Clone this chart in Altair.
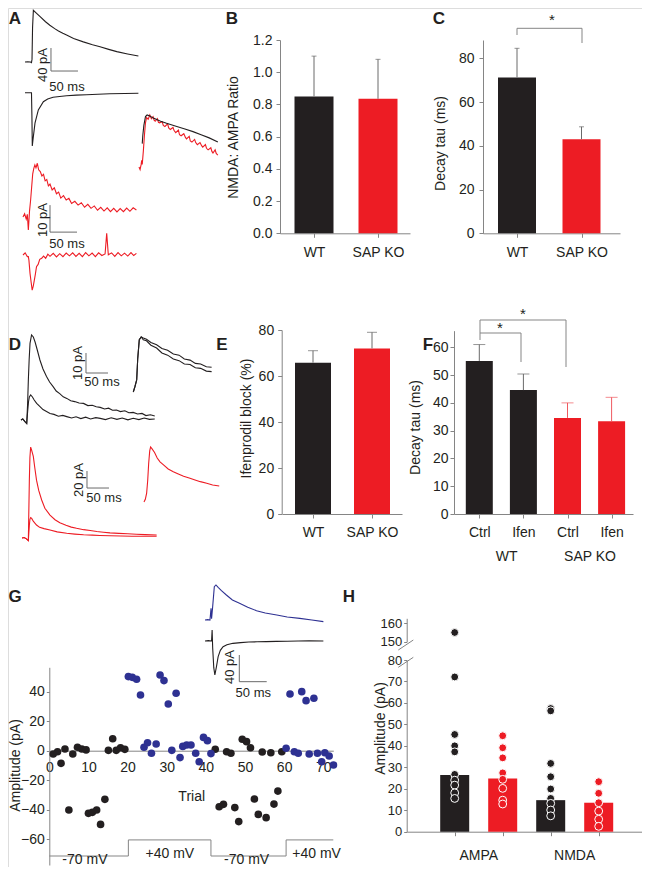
import altair as alt
import pandas as pd

# ---------------- data ----------------
# Panel B : NMDA/AMPA ratio
b_groups = ["WT", "SAP KO"]
b_mean = [0.85, 0.835]
b_sem = [0.25, 0.245]
# Panel C : decay tau
c_groups = ["WT", "SAP KO"]
c_mean = [71.3, 43.0]
c_sem = [13.3, 5.7]
# Panel E : ifenprodil block
e_groups = ["WT", "SAP KO"]
e_mean = [65.8, 72.0]
e_sem = [5.2, 7.0]
# Panel F : decay tau ctrl / ifen
f_cond = ["Ctrl", "Ifen", "Ctrl", "Ifen"]
f_geno = ["WT", "WT", "SAP KO", "SAP KO"]
f_mean = [55.1, 44.6, 34.6, 33.4]
f_sem = [5.9, 5.8, 5.4, 8.6]
# Panel H : amplitudes
h_receptor = ["AMPA", "AMPA", "NMDA", "NMDA"]
h_geno = ["WT", "SAP KO", "WT", "SAP KO"]
h_mean = [26.4, 24.8, 14.7, 13.5]
h_ampa_wt = [155, 72.1, 45.3, 40.0, 37.2, 26.7, 24.0, 21.7, 18.1, 15.5]
h_ampa_ko = [44.7, 39.1, 34.4, 27.4, 24.4, 20.2, 14.7, 12.9]
h_nmda_wt = [57.4, 56.3, 31.8, 25.6, 19.9, 15.5, 13.2, 10.1, 7.4]
h_nmda_ko = [23.3, 17.9, 13.5, 9.6, 5.8, 2.5]

# Panel G : trial-by-trial amplitudes
g_neg_trial = [1.0, 2.1, 3.0, 4.0, 6.0, 7.2, 8.3, 9.4, 15.1, 16.2, 17.1, 18.2, 19.3,
               42.4, 45.3, 46.4, 49.3, 50.4, 51.4, 54.4, 56.6, 59.4,
               5.0, 10.0, 11.0, 12.1, 13.1, 14.2, 43.4, 44.5, 47.4, 48.4, 52.4, 53.4,
               55.4, 57.4, 58.4]
g_neg_amp = [-2.3, -0.7, -8.6, 1.1, -2.3, 2.3, 1.1, 0.5, 0.2, 8.1, 0.2, 2.0, 0.9,
             1.0, -0.7, -1.8, 7.7, 6.1, 2.0, -0.9, -1.4, -0.7,
             -40.2, -42.5, -41.8, -40.2, -50.0, -33.0, -38.0, -36.4, -38.6, -48.1, -32.8,
             -43.2, -45.4, -36.2, -27.4]
g_pos_trial = [20.2, 21.2, 22.3, 23.3, 28.3, 29.3, 30.4, 32.4, 61.5, 64.5, 65.6, 67.6,
               24.2, 25.1, 26.1, 27.3, 31.3, 33.4, 34.1, 35.1, 36.2, 37.4, 38.3, 39.4,
               40.4, 41.3, 60.5, 62.6, 63.6, 66.4, 68.5, 69.6, 70.4, 71.5, 72.6]
g_pos_amp = [50.2, 49.7, 48.4, 37.7, 51.3, 47.5, 31.6, 38.9, 38.4, 40.0, 33.9, 35.5,
             2.3, 5.4, -1.8, 4.5, 0.2, -4.7, 2.9, 3.8, 3.8, -1.8, -7.5, 9.0,
             6.8, -2.0, 1.6, -0.7, -1.8, -2.3, -1.8, -7.5, -1.4, -3.6, -9.7]
g_step_trial = [0, 20.2, 20.2, 41.3, 41.3, 60.5, 60.5, 72.56]
g_step_level = [-71.4, -71.4, -60.5, -60.5, -71.4, -71.4, -60.5, -60.5]
g_volt_trial = [9.1, 30.8, 50.4, 68.3]
g_volt_amp = [-76.6, -72.6, -76.6, -72.6]
g_volt_label = ["-70 mV", "+40 mV", "-70 mV", "+40 mV"]

# ---- example traces (time in ms, current in pA or normalised) ----
a1_t = [0, 5, 10, 12, 13, 14, 15.5, 20, 28, 38, 46, 55, 62, 70, 77, 90, 108, 125, 139, 155, 170, 190, 210]
a1_v = [0, 0.5, 0, -1, 5, 60, 90, 86, 79, 70, 64, 58, 54, 50, 47, 41, 35, 30, 26.6, 22, 18, 14, 10.4]
a2_t = [0, 6, 12, 12.8, 13.5, 15, 18.5, 24.7, 34, 42, 52, 64, 77, 95, 114, 135, 157, 185, 210]
a2_v = [0, 0, 0, -40, -92.7, -80, -53, -30, -15.6, -11, -8, -6.5, -5.2, -4.3, -3.5, -2.6, -1.7, -1.3, -1]
a_ovl_k_t = [6, 7, 9, 12, 15, 20, 26.5, 40, 51, 70, 85, 100, 115, 130, 146]
a_ovl_k_v = [0.45, 0.6, 0.8, 0.97, 1.0, 0.98, 0.94, 0.88, 0.84, 0.78, 0.73, 0.68, 0.62, 0.56, 0.48]
a_ovl_r_t = [0, 2, 4, 5, 6, 8, 10, 12, 14, 17, 20, 23, 26, 28, 30, 34, 36, 38, 43, 45, 48, 53, 55,
             58, 63, 65, 68, 73, 75, 78, 83, 86, 88, 93, 95, 98, 103, 105, 108, 113, 116, 118,
             123, 125, 128, 133, 135, 137, 141, 143, 146]
a_ovl_r_v = [0, -0.05, 0.05, 0.13, 0.05, 0.3, 0.6, 0.85, 0.95, 0.92, 1.0, 0.93, 0.97, 0.9, 0.88,
             0.93, 0.86, 0.85, 0.87, 0.8, 0.78, 0.83, 0.75, 0.72, 0.76, 0.7, 0.66, 0.71, 0.62,
             0.6, 0.64, 0.57, 0.54, 0.59, 0.5, 0.48, 0.53, 0.47, 0.43, 0.47, 0.41, 0.38, 0.43,
             0.36, 0.33, 0.37, 0.3, 0.27, 0.33, 0.26, 0.23]
a3_t = [0, 3, 6, 8, 9.9, 12, 14, 16, 18, 20, 22, 24, 26.5, 29, 32, 35, 38, 41, 44, 47, 50, 54, 58,
        62, 66, 70, 75, 80, 85, 90, 96, 102, 108, 114, 120, 126, 132, 138, 144, 150, 156, 162,
        168, 174, 180, 186, 192, 198, 204, 210]
a3_v = [0, 1.2, -0.8, 1.0, -4.8, 2, 6, 11, 16, 18, 19.3, 18.2, 19.9, 17.5, 16.8, 15.2, 15.8, 13.4,
        13.9, 11.5, 12.2, 10, 10.8, 8.6, 9.2, 7.0, 7.9, 6.3, 6.9, 5.0, 5.8, 4.4, 5.3, 3.6, 4.7,
        3.2, 4.1, 2.5, 3.6, 2.2, 3.4, 2.0, 3.2, 1.9, 3.1, 2.0, 3.3, 2.1, 3.4, 2.6]
a4_t = [0, 4, 8, 9.9, 11, 13, 15, 17, 19, 21, 23, 25, 28, 31, 34.6, 38, 42, 46, 50, 56, 62, 68,
        74, 80, 86, 92, 98, 104, 110, 116, 122, 128, 134, 140, 146, 152, 155, 158, 164, 170,
        176, 182, 188, 194, 200, 205, 210]
a4_v = [0, 0.8, -0.6, -0.6, -2, -6.8, -10, -13, -11.5, -9.3, -7, -4.3, -3.5, -1.6, -1.2, -0.4,
        -1.2, 0.3, -0.5, 0.6, -0.7, 0.5, -0.6, 0.7, -0.3, 0.8, -0.5, 0.6, -0.6, 0.9, -0.3, 0.7,
        -0.6, 0.8, -0.2, 0.4, 8, 0.1, 0.8, -0.5, 0.9, -0.3, 0.7, -0.4, 0.9, -0.2, 0.6]

d_k1_t = [0, 4, 9, 13, 15, 16.7, 18.5, 20.5, 24, 28, 32, 37, 43, 50, 58, 65, 73, 80, 88, 96, 104,
          113, 122, 132, 142, 152, 162, 171, 180, 190, 199, 208, 217, 226, 236, 245, 255, 265,
          275, 284, 294, 304]
d_k1_v = [0, 0.5, -0.8, -1.7, 8, 20, 30, 38.3, 42.5, 41.5, 39, 35, 30, 25.5, 21.7, 19, 16.7,
          14.5, 13.2, 11.6, 10.8, 9.6, 9.2, 8.5, 8.3, 7.2, 7.4, 6.6, 6.3, 5.5, 5.9, 4.9, 5.0,
          4.2, 4.6, 3.6, 3.8, 3.0, 3.3, 2.2, 2.6, 2.0]
d_k2_t = [0, 4, 9, 13, 15, 17, 19, 22, 26, 30, 35.6, 42, 50, 58, 66, 75, 85, 95, 104, 115, 125,
          136, 147, 158, 170, 180, 192, 205, 218, 230, 243, 255, 268, 280, 292, 304]
d_k2_v = [0, 0.5, -0.8, -1.7, 4, 9, 11.5, 12.5, 11.5, 10, 8.3, 6.9, 5.2, 4.2, 3.2, 2.8, 1.9,
          2.3, 1.7, 1.0, 1.6, 0.7, 1.4, 0.5, 1.2, 0.8, 0.2, 1.1, 0.3, 1.0, 0.1, 0.9, 0.2, 1.0,
          0.3, 0.5]
d_ko1_t = [0, 3.8, 7.7, 10, 13.6, 18, 22.7, 30, 40, 53, 65, 78, 91, 104, 116, 129, 141, 153, 166, 178]
d_ko1_v = [0, 0.1, 0.22, 0.6, 0.95, 1.0, 0.98, 0.96, 0.9, 0.86, 0.79, 0.76, 0.69, 0.67, 0.6,
           0.58, 0.52, 0.51, 0.46, 0.45]
d_ko2_t = [0, 3.8, 7.7, 10, 13.6, 18, 22.7, 30, 40, 53, 65, 78, 91, 104, 116, 129, 141, 153, 166, 178]
d_ko2_v = [0, 0.1, 0.22, 0.6, 0.95, 1.0, 0.95, 0.93, 0.85, 0.8, 0.71, 0.67, 0.6, 0.57, 0.51,
           0.5, 0.44, 0.43, 0.38, 0.37]
d_r1_t = [0, 5, 10, 14.4, 16.7, 18, 19.7, 22, 25.7, 29, 33, 38, 44.7, 52, 63.6, 75, 86, 100, 112,
          124, 140, 155, 170, 185, 200, 220, 240, 260, 280, 306]
d_r1_v = [0, 0.5, -1, -3, 68, 95, 107, 103, 96, 83, 68, 56, 44.7, 35, 27, 21.5, 18, 15, 12.8,
          11.4, 9.8, 8.8, 7.6, 6.8, 6.0, 5.4, 5.0, 4.4, 4.0, 3.5]
d_r2_t = [0, 5, 10, 14.4, 16.7, 18, 19.7, 22, 26, 33, 40, 50, 63.6, 80, 101.6, 120, 140, 160,
          177, 200, 225, 250, 275, 306]
d_r2_v = [0, 0.5, -1, -3, 15, 22, 24, 23, 19.5, 15.3, 12.5, 11, 9.4, 7.2, 5.5, 4.6, 3.8, 3.4,
          3.0, 2.6, 2.3, 2.1, 2.0, 2.0]
d_rovl_t = [0, 3, 6, 8.5, 10.6, 13, 15, 18, 24, 30, 36.4, 45, 55, 66.6, 78, 90, 104.5, 116, 128,
            142.5, 156, 171]
d_rovl_v = [0, 0.05, 0.16, 0.4, 0.7, 0.93, 1.0, 0.97, 0.9, 0.8, 0.73, 0.67, 0.6, 0.55, 0.51,
            0.47, 0.43, 0.4, 0.37, 0.34, 0.31, 0.29]
g_blue_t = [0, 5, 9, 10, 11, 12, 14, 17, 20, 24, 30, 39, 50, 63, 78, 94, 110, 131, 150, 173, 195, 216]
g_blue_v = [0, 0.5, 0, 8, 17.5, 2, 20, 50, 52.5, 49, 44, 37.5, 30, 25, 19, 14, 10.5, 7.5, 4.5, 2.5, 0, -2.5]
g_black_t = [0, 6, 12, 13, 14, 16, 18, 21, 24, 28, 33, 40, 51, 65, 80, 95, 112, 130, 150, 170, 190, 216]
g_black_v = [0, 0.5, 0, 16.5, -10, -40, -51, -38, -23.5, -14, -8.5, -5.5, -3.5, -2.5, -1.5,
             -1.2, -1, -0.6, -0.3, 0, 0.2, 0]

# ---------------- style ----------------
BLACK = "#231F20"
RED = "#ED1C24"
BLUE = "#2E3192"
GREY = "#858585"
ERR_GREY = "#6a6a6a"
ERR_RED = "#EF5A60"
SB = "#6a6a6a"
FONT = "Liberation Sans"
W, H = 634, 859
M = 8

AX = dict(domainColor=GREY, tickColor=GREY, labelColor=BLACK, labelFont=FONT,
          grid=False, labelFlush=False, labelOverlap=False, domainWidth=1, tickWidth=1)

ONE = alt.Data(values=[{}])


def lin_x(x0, k):
    return alt.Scale(domain=[0, 100], range=[x0 - M, x0 - M + 100 * k], nice=False, zero=False, padding=0)


def lin_y(y0, k):
    return alt.Scale(domain=[0, 100], range=[y0 - M, y0 - M - 100 * k], nice=False, zero=False, padding=0)


def x_scale(c1, step, a0, a1):
    p0 = c1 - step
    return alt.Scale(domain=[(a0 - p0) / step, (a1 - p0) / step], range=[a0 - M, a1 - M],
                     nice=False, zero=False, padding=0)


def y_scale(dom, px_lo, px_hi):
    return alt.Scale(domain=dom, range=[px_lo - M, px_hi - M], nice=False, zero=False, padding=0)


def left_axis(x_px, values, fmt=None, title=None, tx=None, ty=None, tick=4, pad=4, size=14):
    kw = dict(AX, orient="left", offset=-(x_px - M), values=values, tickSize=tick,
              labelPadding=pad, labelFontSize=size)
    if fmt:
        kw["format"] = fmt
    if title:
        kw.update(title=title, titleX=tx - x_px, titleY=ty - M, titleAngle=270,
                  titleAlign="center", titleBaseline="middle", titleFont=FONT,
                  titleFontSize=14, titleFontWeight="normal", titleColor=BLACK)
    else:
        kw["title"] = None
    return alt.Axis(**kw)


def bottom_axis(y_px, values, label_expr=None, tick=4, pad=9, labels=True, size=14, ticks=True):
    kw = dict(AX, orient="bottom", offset=(y_px - M) - H, values=values, tickSize=tick,
              labelPadding=pad, labels=labels, title=None, ticks=ticks, labelFontSize=size)
    if label_expr:
        kw["labelExpr"] = label_expr
    return alt.Axis(**kw)


def label_expr(labels):
    parts = [f"datum.value == {i + 1} ? '{l}'" for i, l in enumerate(labels)]
    return " : ".join(parts) + " : ''"


def text(s, x, y, size=14, bold=False, angle=0, color=BLACK):
    return alt.Chart(ONE).mark_text(
        text=s, font=FONT, fontSize=size, fontWeight="bold" if bold else "normal",
        angle=angle, align="center", baseline="middle", color=color
    ).encode(x=alt.value(x - M), y=alt.value(y - M))


def seg(x1, y1, x2, y2, color=GREY, w=1):
    return alt.Chart(ONE).mark_rule(color=color, strokeWidth=w).encode(
        x=alt.value(x1 - M), y=alt.value(y1 - M), x2=alt.value(x2 - M), y2=alt.value(y2 - M))


def trace(t, v, color, xs, ys, w=1.1):
    df = pd.DataFrame({"t": t, "v": v, "i": range(len(t))})
    return alt.Chart(df).mark_line(color=color, strokeWidth=w).encode(
        x=alt.X("t:Q", scale=xs, axis=None), y=alt.Y("v:Q", scale=ys, axis=None),
        order=alt.Order("i:Q"))


def scalebar(t0, v_top, v_bot, xs, ys):
    return trace([t0, t0, t0 + 50], [v_top, v_bot, v_bot], SB, xs, ys, w=1)


def bar_layers(mean, sem, groups, fills, errs, xs, ys, xax, yax, bw, cap):
    df = pd.DataFrame({"pos": list(range(1, len(mean) + 1)), "mean": mean,
                       "top": [m + s for m, s in zip(mean, sem)], "grp": groups})
    dom = list(dict.fromkeys(groups))
    fill = alt.Color("grp:N", scale=alt.Scale(domain=dom, range=fills), legend=None)
    ecol = alt.Color("grp:N", scale=alt.Scale(domain=dom, range=errs), legend=None)
    base = alt.Chart(df)
    bars = base.mark_bar(size=bw, orient="vertical").encode(
        x=alt.X("pos:Q", scale=xs, axis=xax), y=alt.Y("mean:Q", scale=ys, axis=yax), color=fill)
    rule = base.mark_rule(strokeWidth=1).encode(
        x=alt.X("pos:Q", scale=xs, axis=None), y=alt.Y("mean:Q", scale=ys, axis=None),
        y2="top:Q", color=ecol)
    caps = base.mark_tick(orient="horizontal", size=cap, thickness=1).encode(
        x=alt.X("pos:Q", scale=xs, axis=None), y=alt.Y("top:Q", scale=ys, axis=None), color=ecol)
    return [bars, rule, caps]


layers = []

# ---------------- Panel A ----------------
layers.append(text("A", 15, 19, size=17, bold=True))
xa = lin_x(25, 0.54)
ya1 = lin_y(62, 0.575)
ya2 = lin_y(92.7, 0.575)
layers.append(trace(a1_t, a1_v, BLACK, xa, ya1))
layers.append(trace(a2_t, a2_v, BLACK, xa, ya2))
layers.append(scalebar(48.1, 24.3, -15.7, xa, ya1))
layers.append(text("40 pA", 43, 65, size=13, angle=270))
layers.append(text("50 ms", 67, 87, size=13))
xo = lin_x(139, 0.54)
yo = lin_y(167, 0.52)
layers.append(trace(a_ovl_r_t, [v * 100 for v in a_ovl_r_v], RED, xo, yo))
layers.append(trace(a_ovl_k_t, [v * 100 for v in a_ovl_k_v], BLACK, xo, yo))
xa3 = lin_x(23, 0.54)
ya3 = lin_y(217, 2.7)
ya4 = lin_y(255, 2.7)
layers.append(trace(a3_t, a3_v, RED, xa3, ya3))
layers.append(trace(a4_t, a4_v, RED, xa3, ya4))
layers.append(scalebar(50, 4.4, -5.6, xa3, ya3))
layers.append(text("10 pA", 43, 220, size=13, angle=270))
layers.append(text("50 ms", 67, 244, size=13))

# ---------------- Panel B ----------------
layers.append(text("B", 232, 19, size=17, bold=True))
xs_b = x_scale(314, 64, 280, 410)
ys_b = y_scale([0, 1.2], 233.3, 40)
layers += bar_layers(b_mean, b_sem, b_groups, [BLACK, RED], [ERR_GREY, ERR_GREY], xs_b, ys_b,
                     bottom_axis(233.3, [1, 2], label_expr(b_groups), pad=8),
                     left_axis(280, [0, 0.2, 0.4, 0.6, 0.8, 1.0, 1.2], fmt=".1f",
                               title="NMDA: AMPA Ratio", tx=233, ty=137, pad=4),
                     39, 5)

# ---------------- Panel C ----------------
layers.append(text("C", 439, 19, size=17, bold=True))
xs_c = x_scale(517, 64.5, 483, 620)
ys_c = y_scale([0, 88.4], 233.3, 40)
layers += bar_layers(c_mean, c_sem, c_groups, [BLACK, RED], [ERR_GREY, ERR_GREY], xs_c, ys_c,
                     bottom_axis(233.3, [1, 2], label_expr(c_groups), pad=8),
                     left_axis(483, [0, 20, 40, 60, 80], title="Decay tau (ms)", tx=440, ty=143, pad=5),
                     38, 5)
layers.append(seg(517, 28.3, 582, 28.3))
layers.append(seg(517, 28.3, 517, 35))
layers.append(seg(582, 28.3, 582, 43))
layers.append(text("*", 552, 20, size=15))

# ---------------- Panel D ----------------
layers.append(text("D", 15, 345, size=17, bold=True))
xd = lin_x(21, 0.44)
yd = lin_y(420, 2.0)
layers.append(trace(d_k2_t, d_k2_v, BLACK, xd, yd))
layers.append(trace(d_k1_t, d_k1_v, BLACK, xd, yd))
layers.append(scalebar(147.7, 33.5, 23.5, xd, yd))
layers.append(text("10 pA", 78, 363, size=13, angle=270))
layers.append(text("50 ms", 102, 382, size=13))
xdo = lin_x(133.3, 0.44)
ydo = lin_y(392, 0.55)
layers.append(trace(d_ko1_t, [v * 100 for v in d_ko1_v], BLACK, xdo, ydo))
layers.append(trace(d_ko2_t, [v * 100 for v in d_ko2_v], BLACK, xdo, ydo))
xdr = lin_x(22, 0.44)
ydr = lin_y(538, 0.85)
layers.append(trace(d_r2_t, d_r2_v, RED, xdr, ydr))
layers.append(trace(d_r1_t, d_r1_v, RED, xdr, ydr))
layers.append(scalebar(147.7, 78.8, 58.8, xdr, ydr))
layers.append(text("20 pA", 79, 480, size=13, angle=270))
layers.append(text("50 ms", 104, 498, size=13))
xdro = lin_x(144, 0.44)
ydro = lin_y(502, 0.55)
layers.append(trace(d_rovl_t, [v * 100 for v in d_rovl_v], RED, xdro, ydro))

# ---------------- Panel E ----------------
layers.append(text("E", 222, 345, size=17, bold=True))
xs_e = x_scale(313, 59, 282, 402)
ys_e = y_scale([0, 80], 514, 330)
layers += bar_layers(e_mean, e_sem, e_groups, [BLACK, RED], [ERR_GREY, ERR_GREY], xs_e, ys_e,
                     bottom_axis(514, [1, 2], label_expr(e_groups), pad=7),
                     left_axis(281.7, [0, 20, 40, 60, 80], title="Ifenprodil block (%)",
                               tx=246.7, ty=418, pad=4),
                     36, 10)

# ---------------- Panel F ----------------
layers.append(text("F", 428, 345, size=17, bold=True))
xs_f = x_scale(479.3, 44.1, 454, 633)
ys_f = y_scale([0, 66], 514, 514 - 66 * 2.778)
layers += bar_layers(f_mean, f_sem, f_geno, [BLACK, RED], [ERR_GREY, ERR_RED], xs_f, ys_f,
                     bottom_axis(514, [1, 2, 3, 4], label_expr(f_cond), pad=7),
                     left_axis(454, [0, 10, 20, 30, 40, 50, 60], title="Decay tau (ms)",
                               tx=415, ty=427, pad=2),
                     27, 12)
layers.append(text("WT", 506.7, 556.7))
layers.append(text("SAP KO", 590, 556.7))
layers.append(seg(480, 320, 566, 320))
layers.append(seg(480, 320, 480, 340))
layers.append(seg(566, 320, 566, 367))
layers.append(seg(480, 333, 521, 333))
layers.append(seg(521, 333, 521, 362))
layers.append(text("*", 523, 314, size=15))
layers.append(text("*", 500, 328, size=15))

# ---------------- Panel G ----------------
layers.append(text("G", 15, 597, size=17, bold=True))
xs_g = alt.Scale(domain=[0, 72.56], range=[49.3 - M, 333.3 - M], nice=False, zero=False, padding=0)
ys_g = alt.Scale(domain=[-77.5, 56.5], range=[865 - M, 667.3 - M], nice=False, zero=False, padding=0)
step_df = pd.DataFrame({"t": g_step_trial, "v": g_step_level, "i": range(len(g_step_trial))})
layers.append(alt.Chart(step_df).mark_line(color=GREY, strokeWidth=1).encode(
    x=alt.X("t:Q", scale=xs_g, axis=bottom_axis(750.7, [0, 10, 20, 30, 40, 50, 60, 70],
                                                tick=0, pad=10, ticks=False)),
    y=alt.Y("v:Q", scale=ys_g, axis=left_axis(49.3, [-60, -40, -20, 0, 20, 40],
                                              title="Amplitude (pA)", tx=15, ty=765, tick=3, pad=2)),
    order=alt.Order("i:Q")))
volt_df = pd.DataFrame({"t": g_volt_trial, "v": g_volt_amp, "lab": g_volt_label})
layers.append(alt.Chart(volt_df).mark_text(font=FONT, fontSize=14, color=BLACK, baseline="alphabetic").encode(
    x=alt.X("t:Q", scale=xs_g, axis=None), y=alt.Y("v:Q", scale=ys_g, axis=None), text="lab:N"))
neg_df = pd.DataFrame({"t": g_neg_trial, "a": g_neg_amp})
pos_df = pd.DataFrame({"t": g_pos_trial, "a": g_pos_amp})
layers.append(alt.Chart(neg_df).mark_circle(size=58, opacity=1, color=BLACK).encode(
    x=alt.X("t:Q", scale=xs_g, axis=None), y=alt.Y("a:Q", scale=ys_g, axis=None)))
layers.append(alt.Chart(pos_df).mark_circle(size=58, opacity=1, color=BLUE).encode(
    x=alt.X("t:Q", scale=xs_g, axis=None), y=alt.Y("a:Q", scale=ys_g, axis=None)))
layers.append(text("Trial", 191.7, 797))
xg = lin_x(205, 0.548)
yg1 = lin_y(620, 0.667)
yg2 = lin_y(641, 0.667)
layers.append(trace(g_blue_t, g_blue_v, BLUE, xg, yg1))
layers.append(trace(g_black_t, g_black_v, BLACK, xg, yg2))
layers.append(scalebar(62.6, -21, -61, xg, yg2))
layers.append(text("40 pA", 230, 667, size=13, angle=270))
layers.append(text("50 ms", 253.3, 693.3, size=13))

# ---------------- Panel H ----------------
layers.append(text("H", 349, 597, size=17, bold=True))
xs_h = alt.Scale(domain=[0, 5], range=[406.7 - M, 646.7 - M], nice=False, zero=False, padding=0)
ys_h = y_scale([0, 80], 831.7, 660)
ys_h_up = y_scale([150, 162.7], 641.7, 618.3)
h_df = pd.DataFrame({"pos": [1, 2, 3, 4], "mean": h_mean, "grp": h_geno})
hcol = alt.Color("grp:N", scale=alt.Scale(domain=["WT", "SAP KO"], range=[BLACK, RED]), legend=None)
layers.append(alt.Chart(h_df).mark_bar(size=29, orient="vertical").encode(
    x=alt.X("pos:Q", scale=xs_h, axis=bottom_axis(831.7, [1, 2, 3, 4, 5], labels=False)),
    y=alt.Y("mean:Q", scale=ys_h, axis=left_axis(406.7, [0, 10, 20, 30, 40, 50, 60, 70, 80],
                                                 title="Amplitude (pA)", tx=380, ty=728,
                                                 tick=3, pad=2, size=13)),
    color=hcol))
pts = []
for p, g, vals in [(1, "WT", h_ampa_wt), (2, "SAP KO", h_ampa_ko), (3, "WT", h_nmda_wt), (4, "SAP KO", h_nmda_ko)]:
    for v in vals:
        pts.append({"pos": p, "amp": v, "grp": g})
hp_df = pd.DataFrame(pts)
layers.append(alt.Chart(hp_df).transform_filter("datum.amp <= 100").mark_circle(
    size=62, opacity=1, stroke="white", strokeWidth=1).encode(
    x=alt.X("pos:Q", scale=xs_h, axis=None), y=alt.Y("amp:Q", scale=ys_h, axis=None), color=hcol))
layers.append(alt.Chart(hp_df).transform_filter("datum.amp > 100").mark_circle(
    size=62, opacity=1, stroke="white", strokeWidth=1).encode(
    x=alt.X("pos:Q", scale=xs_h, axis=None),
    y=alt.Y("amp:Q", scale=ys_h_up, axis=left_axis(406.7, [150, 160], tick=3, pad=2, size=13)),
    color=hcol))
grp_df = pd.DataFrame({"pos": [1.5, 3.5], "lab": ["AMPA", "NMDA"]})
layers.append(alt.Chart(grp_df).mark_text(font=FONT, fontSize=14, color=BLACK, baseline="middle").encode(
    x=alt.X("pos:Q", scale=xs_h, axis=None), y=alt.value(856 - M), text="lab:N"))
layers.append(seg(398.3, 667.3, 413.3, 657.3, color=GREY))
layers.append(seg(398.3, 650, 413.3, 640, color=GREY))

chart = alt.layer(*layers).resolve_scale(
    x="independent", y="independent", color="independent"
).properties(
    width=W, height=H, autosize="none", padding=0
).configure_view(stroke=None).configure(background="white")

chart.save("out.html", embed_options={"renderer": "svg", "actions": False})
